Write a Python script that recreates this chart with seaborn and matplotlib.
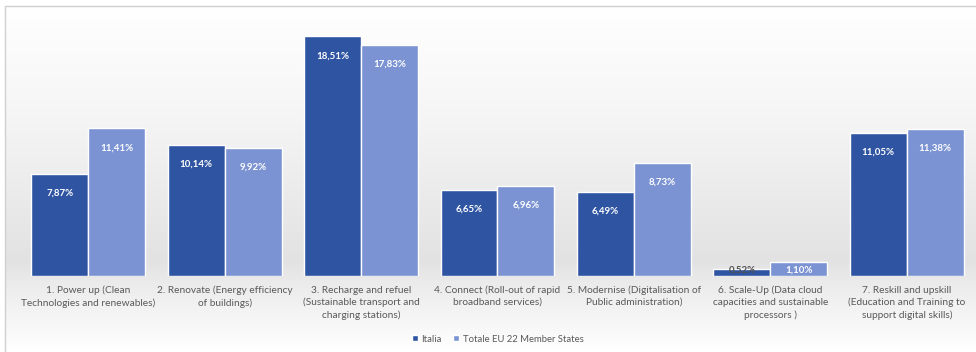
import numpy as np
import pandas as pd
import matplotlib.pyplot as plt
import seaborn as sns
from matplotlib.patches import Patch
from matplotlib.colors import LinearSegmentedColormap

sns.set_theme(style="white")
plt.rcParams['font.family'] = ['Lato', 'DejaVu Sans']

# Data
categories = [
    "1. Power up (Clean\nTechnologies and renewables)",
    "2. Renovate (Energy efficiency\nof buildings)",
    "3. Recharge and refuel\n(Sustainable transport and\ncharging stations)",
    "4. Connect (Roll-out of rapid\nbroadband services)",
    "5. Modernise (Digitalisation of\nPublic administration)",
    "6. Scale-Up (Data cloud\ncapacities and sustainable\nprocessors )",
    "7. Reskill and upskill\n(Education and Training to\nsupport digital skills)",
]
series_names = ["Italia", "Totale EU 22 Member States"]
italia = [7.87, 10.14, 18.51, 6.65, 6.49, 0.52, 11.05]
eu22 = [11.41, 9.92, 17.83, 6.96, 8.73, 1.10, 11.38]

df = pd.DataFrame({
    "category": categories * 2,
    "series": [series_names[0]] * len(categories) + [series_names[1]] * len(categories),
    "value": italia + eu22,
})

colors = {"Italia": "#2f55a2", "Totale EU 22 Member States": "#7b93d3"}

fig = plt.figure(figsize=(9.76, 3.52), dpi=100)

# background gradient panel (frame area)
bg = fig.add_axes([5 / 976, 0, 1 - 5 / 976, 1 - 6 / 352], zorder=0)
grad_cmap = LinearSegmentedColormap.from_list(
    "bg", [(0.0, "#ffffff"), (0.30, "#f6f6f6"), (0.74, "#e2e2e2"), (0.80, "#ebebeb"), (1.0, "#ffffff")])
bg.imshow(np.linspace(0, 1, 256).reshape(-1, 1), aspect="auto", cmap=grad_cmap,
          extent=[0, 1, 1, 0])
bg.set_axis_off()
fig.add_artist(plt.Line2D([5 / 976, 1], [1 - 6 / 352] * 2, color="#d0d0d0", lw=1))
fig.add_artist(plt.Line2D([5 / 976] * 2, [0, 1 - 6 / 352], color="#d0d0d0", lw=1))

ax = fig.add_axes([20 / 976, 1 - 276 / 352, 955 / 976, 259 / 352], zorder=1)
ax.patch.set_alpha(0)
sns.barplot(data=df, x="category", y="value", hue="series", palette=colors,
            width=0.835, gap=0, saturation=1, ax=ax, legend=False)
ax.set_ylim(0, 20)
ax.set_xlim(-0.5, len(categories) - 0.5)
ax.set_xlabel("")
ax.set_ylabel("")
ax.set_yticks([])
for s in ax.spines.values():
    s.set_visible(False)
ax.tick_params(axis="x", length=0, pad=7)
for lab in ax.get_xticklabels():
    lab.set_fontsize(7.3)
    lab.set_color("#595959")
    lab.set_linespacing(1.4)

# value labels
for container, vals in zip(ax.containers, [italia, eu22]):
    for bar, v in zip(container, vals):
        cx = bar.get_x() + bar.get_width() / 2
        y = max(v - 1.5, 0.45)
        col = "#505050" if v < 1 else "white"
        ax.text(cx, y, f"{v:.2f}%".replace(".", ","), ha="center", va="center",
                fontsize=7, fontweight="bold", color=col)

handles = [Patch(facecolor=colors[n], label=n) for n in series_names]
fig.legend(handles=handles, loc="center", bbox_to_anchor=(0.51, 1 - 339 / 352),
           ncol=2, frameon=False, fontsize=6.8, handlelength=0.6, handleheight=0.6,
           handletextpad=0.4, columnspacing=1.2, labelcolor="#595959")

fig.savefig("out.png", dpi=100)
